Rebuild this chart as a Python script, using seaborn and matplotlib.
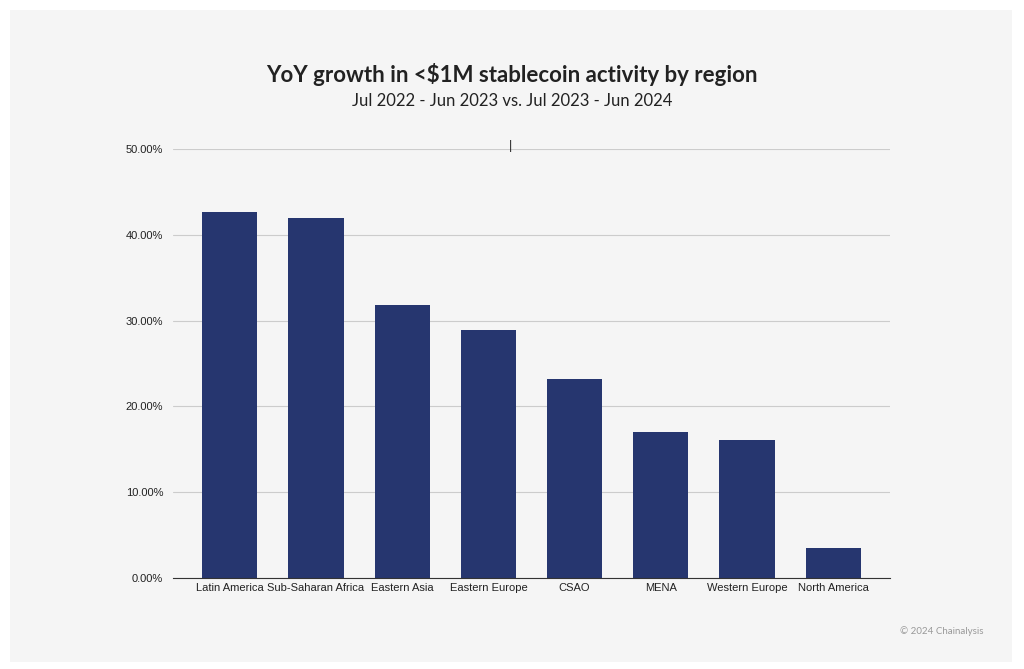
import matplotlib.pyplot as plt
import seaborn as sns
import matplotlib.ticker as ticker
from matplotlib.patches import Rectangle

regions = ['Latin America', 'Sub-Saharan Africa', 'Eastern Asia', 'Eastern Europe',
           'CSAO', 'MENA', 'Western Europe', 'North America']
growth = [42.7, 42.0, 31.8, 28.9, 23.2, 17.0, 16.1, 3.5]

sns.set_style("white")
plt.rcParams['font.family'] = ['Liberation Sans', 'DejaVu Sans']

fig = plt.figure(figsize=(10.24, 6.69), dpi=100, facecolor='white')
fig.patches.append(Rectangle((10 / 1024, 7 / 669), 1002 / 1024, 652 / 669,
                             transform=fig.transFigure, facecolor='#f5f5f5',
                             edgecolor='none', zorder=-10))

ax = fig.add_axes([173 / 1024, 1 - 578 / 669, 717 / 1024, 429 / 669])
ax.set_facecolor('#f5f5f5')
sns.barplot(x=regions, y=growth, color='#26366f', width=0.64, saturation=1,
            edgecolor='none', ax=ax)

ax.set_xlim(-0.66, 7.66)
ax.set_ylim(0, 50)
ax.yaxis.set_major_locator(ticker.MultipleLocator(10))
ax.yaxis.set_major_formatter(ticker.FuncFormatter(lambda v, p: f'{v:.2f}%'))
ax.grid(axis='y', color='#cccccc', linewidth=0.8)
ax.set_axisbelow(True)
for s in ['top', 'right', 'left']:
    ax.spines[s].set_visible(False)
ax.spines['bottom'].set_color('#333333')
ax.tick_params(axis='both', labelsize=8, length=0, colors='#222222')
ax.tick_params(axis='y', pad=7)
ax.set_xlabel('')
ax.set_ylabel('')

fig.text(0.5, 1 - 74 / 669, 'YoY growth in <$1M stablecoin activity by region',
         ha='center', va='center', fontsize=16, fontweight='bold', color='#222222',
         family=['Lato', 'DejaVu Sans'])
fig.text(0.5, 1 - 101 / 669, 'Jul 2022 - Jun 2023 vs. Jul 2023 - Jun 2024',
         ha='center', va='center', fontsize=12, color='#222222', family=['Lato', 'DejaVu Sans'])
fig.text(511 / 1024, 1 - 146 / 669, '|', ha='center', va='center', fontsize=9, color='#222222')
fig.text(984 / 1024, 1 - 631 / 669, '© 2024 Chainalysis', ha='right', va='center',
         fontsize=7, color='#999999', family=['Lato', 'DejaVu Sans'])

fig.savefig('out.png', dpi=100, facecolor='white')
